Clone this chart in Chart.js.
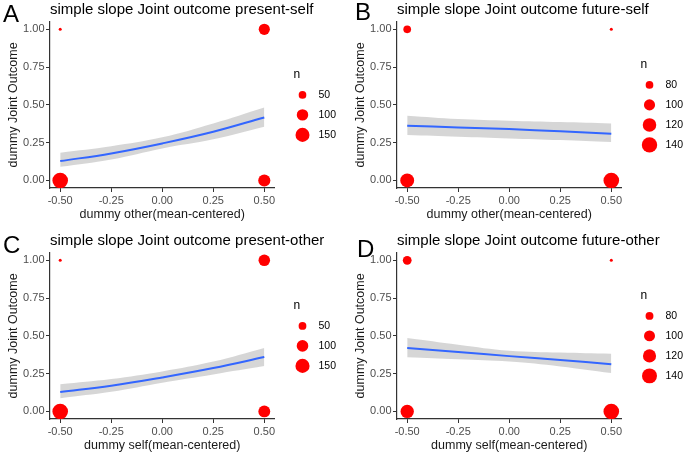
<!DOCTYPE html>
<html>
<head>
<meta charset="utf-8">
<script src="https://cdn.jsdelivr.net/npm/chart.js@4.4.0/dist/chart.umd.min.js"></script>
<style>
  body { margin: 0; width: 685px; height: 453px; overflow: hidden; background: #fff; position: relative; }
  canvas { position: absolute; }
</style>
</head>
<body>
<canvas id="panelA" width="342" height="226" style="left:0px;top:0px"></canvas>
<canvas id="panelB" width="342" height="226" style="left:347px;top:0px"></canvas>
<canvas id="panelC" width="342" height="226" style="left:0px;top:231px"></canvas>
<canvas id="panelD" width="342" height="226" style="left:347px;top:231px"></canvas>
<script>
// axis ticks shared by all four panels
var xTicks = [-0.5, -0.25, 0, 0.25, 0.5];
var yTicks = [0, 0.25, 0.5, 0.75, 1];
var fitX = [-0.5, -0.25, 0, 0.25, 0.5];
var pointX = [-0.5, 0.5, -0.5, 0.5];
var pointY = [1, 1, 0, 0];

// A: present-self
var aPointN = [28, 95, 188, 112];
var aFit = [0.128, 0.179, 0.245, 0.322, 0.417];
var aLower = [0.090, 0.139, 0.212, 0.272, 0.355];
var aUpper = [0.183, 0.226, 0.285, 0.377, 0.483];
var aLegendN = [50, 100, 150];

// B: future-self
var bPointN = [80, 70, 124, 142];
var bFit = [0.362, 0.351, 0.340, 0.325, 0.309];
var bLower = [0.300, 0.289, 0.278, 0.267, 0.254];
var bUpper = [0.428, 0.406, 0.395, 0.386, 0.377];
var bLegendN = [80, 100, 120, 140];

// C: present-other
var cPointN = [27, 100, 185, 105];
var cFit = [0.128, 0.170, 0.225, 0.287, 0.360];
var cLower = [0.088, 0.130, 0.190, 0.245, 0.300];
var cUpper = [0.180, 0.215, 0.265, 0.330, 0.420];
var cLegendN = [50, 100, 150];

// D: future-other
var dPointN = [85, 68, 122, 148];
var dFit = [0.420, 0.394, 0.366, 0.340, 0.313];
var dLower = [0.358, 0.345, 0.330, 0.298, 0.254];
var dUpper = [0.486, 0.442, 0.402, 0.390, 0.382];
var dLegendN = [80, 100, 120, 140];

var FONT = '"Liberation Sans", Arial, sans-serif';

function sizeScale(ns) {
    var lo = Math.min.apply(null, ns), hi = Math.max.apply(null, ns);
    return function (n) {
        return 1.5 + 6.3 * Math.sqrt(Math.max(0, n - lo) / (hi - lo));
    };
}

function toXY(xs, ys) {
    return xs.map(function (x, i) { return { x: x, y: ys[i] }; });
}

function makeDecor(p, radius) {
    return {
        id: 'decor' + p.letter,
        afterDraw: function (chart) {
            var ctx = chart.ctx, area = chart.chartArea;
            ctx.save();
            ctx.fillStyle = '#000';
            ctx.textAlign = 'left';
            ctx.textBaseline = 'alphabetic';
            ctx.font = '24px ' + FONT;
            ctx.fillText(p.letter, p.letterX, p.letterY);

            ctx.textBaseline = 'middle';
            ctx.font = '15px ' + FONT;
            ctx.fillText(p.title, area.left, area.top - 12);

            // size legend
            var mid = (area.top + area.bottom) / 2;
            var top = mid - p.legendN.length * 20 / 2;
            ctx.font = '12px ' + FONT;
            ctx.fillText('n', area.right + 19, top);
            p.legendN.forEach(function (v, i) {
                var y = top + 20 * (i + 1);
                ctx.beginPath();
                ctx.arc(area.right + 28, y, radius(v), 0, Math.PI * 2);
                ctx.fillStyle = '#FF0000';
                ctx.fill();
                ctx.fillStyle = '#000';
                ctx.font = '10.5px ' + FONT;
                ctx.fillText(String(v), area.right + 44, y);
            });
            ctx.restore();
        }
    };
}

function createPanel(p) {
    var radius = sizeScale(p.pointN);
    var axisGrid = { drawOnChartArea: false, drawTicks: true, tickLength: 4, color: '#333333' };
    new Chart(document.getElementById(p.id), {
        type: 'scatter',
        data: {
            datasets: [{
                data: toXY(pointX, pointY),
                order: 0,
                pointRadius: p.pointN.map(radius),
                pointBackgroundColor: '#FF0000',
                pointBorderWidth: 0,
                borderColor: '#FF0000'
            }, {
                type: 'line',
                data: toXY(fitX, p.lower),
                order: 3,
                borderWidth: 0,
                pointRadius: 0,
                tension: 0.4,
                fill: false
            }, {
                type: 'line',
                data: toXY(fitX, p.upper),
                order: 2,
                borderWidth: 0,
                pointRadius: 0,
                tension: 0.4,
                fill: '-1',
                backgroundColor: 'rgba(153,153,153,0.4)'
            }, {
                type: 'line',
                data: toXY(fitX, p.fit),
                order: 1,
                borderColor: '#3366FF',
                borderWidth: 2,
                pointRadius: 0,
                tension: 0.4,
                fill: false
            }]
        },
        options: {
            responsive: false,
            animation: false,
            layout: { padding: { left: 0, top: 21.75, right: 67.5, bottom: 0 } },
            plugins: { legend: { display: false }, tooltip: { enabled: false } },
            scales: {
                x: {
                    type: 'linear', min: -0.55, max: 0.55,
                    afterBuildTicks: function (s) { s.ticks = xTicks.map(function (v) { return { value: v }; }); },
                    afterFit: function (s) { s.height = 38; },
                    ticks: {
                        autoSkip: false, maxRotation: 0, padding: 2, color: '#4D4D4D',
                        font: { family: FONT, size: 11 },
                        callback: function (v) { return Number(v).toFixed(2); }
                    },
                    grid: axisGrid,
                    border: { display: true, color: '#333333', width: 1.2 },
                    title: {
                        display: true, text: p.xLabel, color: '#1a1a1a',
                        font: { family: FONT, size: 12.5 }, padding: { top: 0, bottom: 4 }
                    }
                },
                y: {
                    type: 'linear', min: -0.05, max: 1.05,
                    afterBuildTicks: function (s) { s.ticks = yTicks.map(function (v) { return { value: v }; }); },
                    afterFit: function (s) { s.width = 50; },
                    ticks: {
                        autoSkip: false, padding: 1.5, color: '#4D4D4D',
                        font: { family: FONT, size: 11 },
                        callback: function (v) { return Number(v).toFixed(2); }
                    },
                    grid: axisGrid,
                    border: { display: true, color: '#333333', width: 1.2 },
                    title: {
                        display: true, text: 'dummy Joint Outcome', color: '#1a1a1a',
                        font: { family: FONT, size: 12.5 }, padding: { top: 6, bottom: 0 }
                    }
                }
            }
        },
        plugins: [makeDecor(p, radius)]
    });
}

createPanel({ id: 'panelA', letter: 'A', letterX: 3, letterY: 22,
    title: 'simple slope Joint outcome present-self', xLabel: 'dummy other(mean-centered)',
    pointN: aPointN, fit: aFit, lower: aLower, upper: aUpper, legendN: aLegendN });
createPanel({ id: 'panelB', letter: 'B', letterX: 8, letterY: 20,
    title: 'simple slope Joint outcome future-self', xLabel: 'dummy other(mean-centered)',
    pointN: bPointN, fit: bFit, lower: bLower, upper: bUpper, legendN: bLegendN });
createPanel({ id: 'panelC', letter: 'C', letterX: 3, letterY: 22,
    title: 'simple slope Joint outcome present-other', xLabel: 'dummy self(mean-centered)',
    pointN: cPointN, fit: cFit, lower: cLower, upper: cUpper, legendN: cLegendN });
createPanel({ id: 'panelD', letter: 'D', letterX: 10, letterY: 25.5,
    title: 'simple slope Joint outcome future-other', xLabel: 'dummy self(mean-centered)',
    pointN: dPointN, fit: dFit, lower: dLower, upper: dUpper, legendN: dLegendN });
</script>
</body>
</html>
